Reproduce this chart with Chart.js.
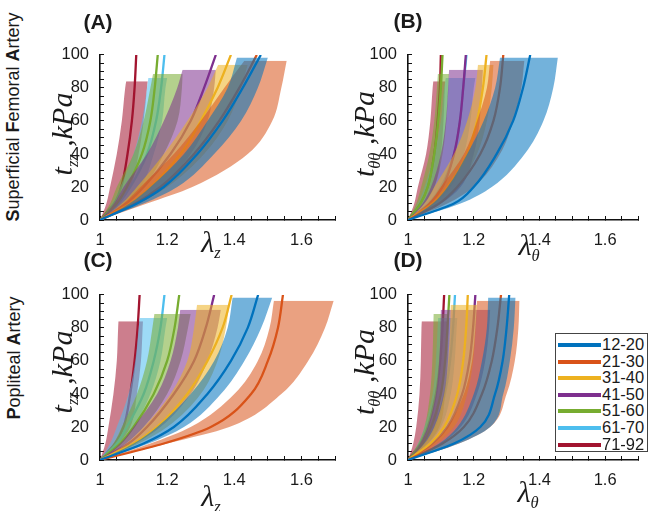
<!DOCTYPE html>
<html><head><meta charset="utf-8">
<script src="https://cdn.jsdelivr.net/npm/chart.js@4/dist/chart.umd.min.js"></script>
<style>
body{margin:0;background:#fff;width:656px;height:511px;position:relative;overflow:hidden;font-family:'Liberation Sans',Arial,sans-serif;color:#1a1a1a;}
.cv{position:absolute;}
.pos{position:absolute;width:0;height:0;}
.pos>span{position:absolute;left:0;top:0;transform:translate(-50%,-50%);white-space:nowrap;}
.pos.r>span{transform:translate(-50%,-50%) rotate(-90deg);}
.ttl{font-family:'Liberation Serif','Times New Roman',serif;font-style:italic;font-size:30px;line-height:1;}
.ttl sub{font-size:0.55em;vertical-align:-0.35em;line-height:0;}
.pl{font-weight:bold;font-size:21px;}
.row{font-size:18px;}
#legend{position:absolute;left:555px;top:333px;width:91px;height:117px;border:1px solid #444;background:#fff;}
#legend .it{position:absolute;left:2px;height:17px;width:90px;}
#legend .ln{position:absolute;left:0;top:7px;width:43px;height:4px;}
#legend .tx{position:absolute;left:44px;top:0;font-size:16.5px;line-height:17px;}
</style></head>
<body>
<canvas id="cA" class="cv" style="left:40px;top:30px" width="310" height="230"></canvas>
<canvas id="cB" class="cv" style="left:348px;top:30px" width="305" height="230"></canvas>
<canvas id="cC" class="cv" style="left:40px;top:270px" width="310" height="230"></canvas>
<canvas id="cD" class="cv" style="left:348px;top:270px" width="305" height="230"></canvas>

<div class="pos" style="left:98px;top:22px"><span class="pl">(A)</span></div>
<div class="pos" style="left:408px;top:21px"><span class="pl">(B)</span></div>
<div class="pos" style="left:98px;top:260px"><span class="pl">(C)</span></div>
<div class="pos" style="left:408px;top:260px"><span class="pl">(D)</span></div>

<div class="pos r" style="left:62px;top:134px"><span class="ttl">t<sub>zz</sub> ,kPa</span></div>
<div class="pos r" style="left:364px;top:134px"><span class="ttl">t<sub>θθ</sub> ,kPa</span></div>
<div class="pos r" style="left:62px;top:372px"><span class="ttl">t<sub>zz</sub> ,kPa</span></div>
<div class="pos r" style="left:364px;top:372px"><span class="ttl">t<sub>θθ</sub> ,kPa</span></div>

<div class="pos" style="left:211px;top:242px"><span class="ttl">λ<sub>z</sub></span></div>
<div class="pos" style="left:529px;top:245px"><span class="ttl">λ<sub>θ</sub></span></div>
<div class="pos" style="left:211px;top:496px"><span class="ttl">λ<sub>z</sub></span></div>
<div class="pos" style="left:528px;top:492px"><span class="ttl">λ<sub>θ</sub></span></div>

<div class="pos r" style="left:13px;top:117px"><span class="row"><b>S</b>uperficial <b>F</b>emoral <b>A</b>rtery</span></div>
<div class="pos r" style="left:14px;top:358px"><span class="row"><b>P</b>opliteal <b>A</b>rtery</span></div>

<div id="legend"></div>

<script>
// ---- categories / levels / ticks ----
const groups = ['12-20', '21-30', '31-40', '41-50', '51-60', '61-70', '71-92'];
const stressLevels = [0, 10, 20, 40, 60, 80, 100];   // kPa levels for mean curves
const edgeLevels = [0, 10, 20, 40, 60, 80];          // kPa levels for band edges (last point = bandTop)
const bandTop = [98.5, 96.5, 94, 91, 88.5, 86, 84];
const xTickValues = [1, 1.2, 1.4, 1.6];
const yTickValues = [0, 20, 40, 60, 80, 100];

// ---- (A) Superficial femoral, axial: stretch at each level ----
const sfaAxialMean = [
  [1, 1.11, 1.19, 1.29, 1.365, 1.425, 1.479],
  [1, 1.105, 1.18, 1.28, 1.355, 1.415, 1.467],
  [1, 1.09, 1.15, 1.24, 1.30, 1.35, 1.39],
  [1, 1.078, 1.13, 1.21, 1.27, 1.31, 1.345],
  [1, 1.05, 1.08, 1.125, 1.15, 1.163, 1.172],
  [1, 1.055, 1.09, 1.14, 1.167, 1.182, 1.192],
  [1, 1.042, 1.063, 1.082, 1.095, 1.103, 1.108]
];
const sfaAxialLow = [
  [1, 1.088, 1.15, 1.25, 1.32, 1.38, 1.408],
  [1, 1.07, 1.12, 1.22, 1.30, 1.37, 1.43],
  [1, 1.065, 1.11, 1.19, 1.26, 1.32, 1.352],
  [1, 1.042, 1.07, 1.14, 1.19, 1.23, 1.246],
  [1, 1.03, 1.05, 1.10, 1.13, 1.15, 1.158],
  [1, 1.036, 1.06, 1.10, 1.125, 1.14, 1.144],
  [1, 1.019, 1.03, 1.05, 1.065, 1.075, 1.078]
];
const sfaAxialHigh = [
  [1, 1.13, 1.23, 1.34, 1.42, 1.47, 1.50],
  [1, 1.14, 1.275, 1.44, 1.513, 1.54, 1.556],
  [1, 1.115, 1.20, 1.31, 1.38, 1.42, 1.44],
  [1, 1.105, 1.18, 1.27, 1.32, 1.34, 1.345],
  [1, 1.075, 1.13, 1.19, 1.231, 1.244, 1.246],
  [1, 1.07, 1.12, 1.16, 1.185, 1.195, 1.20],
  [1, 1.055, 1.09, 1.115, 1.13, 1.14, 1.142]
];

// ---- (B) Superficial femoral, circumferential ----
const sfaCircMean = [
  [1, 1.14, 1.20, 1.27, 1.32, 1.35, 1.372],
  [1, 1.095, 1.15, 1.22, 1.26, 1.28, 1.29],
  [1, 1.075, 1.12, 1.18, 1.21, 1.228, 1.239],
  [1, 1.066, 1.105, 1.14, 1.158, 1.168, 1.176],
  [1, 1.038, 1.06, 1.08, 1.092, 1.10, 1.105],
  [1, 1.063, 1.10, 1.14, 1.158, 1.168, 1.178],
  [1, 1.038, 1.06, 1.08, 1.09, 1.097, 1.10]
];
const sfaCircLow = [
  [1, 1.075, 1.12, 1.18, 1.23, 1.265, 1.28],
  [1, 1.062, 1.10, 1.17, 1.21, 1.24, 1.25],
  [1, 1.05, 1.08, 1.14, 1.18, 1.205, 1.213],
  [1, 1.044, 1.07, 1.10, 1.115, 1.122, 1.125],
  [1, 1.025, 1.04, 1.065, 1.08, 1.088, 1.091],
  [1, 1.03, 1.05, 1.08, 1.10, 1.11, 1.115],
  [1, 1.019, 1.03, 1.055, 1.068, 1.075, 1.077]
];
const sfaCircHigh = [
  [1, 1.16, 1.255, 1.355, 1.412, 1.442, 1.456],
  [1, 1.12, 1.20, 1.28, 1.32, 1.345, 1.354],
  [1, 1.09, 1.15, 1.21, 1.24, 1.255, 1.26],
  [1, 1.10, 1.16, 1.20, 1.218, 1.225, 1.228],
  [1, 1.05, 1.08, 1.105, 1.117, 1.123, 1.125],
  [1, 1.08, 1.13, 1.17, 1.19, 1.20, 1.205],
  [1, 1.05, 1.08, 1.10, 1.108, 1.112, 1.113]
];

// ---- (C) Popliteal, axial ----
const popAxialMean = [
  [1, 1.13, 1.22, 1.32, 1.39, 1.44, 1.471],
  [1, 1.19, 1.33, 1.45, 1.50, 1.53, 1.545],
  [1, 1.10, 1.17, 1.26, 1.32, 1.365, 1.392],
  [1, 1.085, 1.14, 1.22, 1.28, 1.315, 1.34],
  [1, 1.06, 1.10, 1.16, 1.20, 1.222, 1.236],
  [1, 1.05, 1.08, 1.13, 1.16, 1.18, 1.192],
  [1, 1.045, 1.07, 1.09, 1.103, 1.112, 1.118]
];
const popAxialLow = [
  [1, 1.10, 1.17, 1.27, 1.34, 1.38, 1.395],
  [1, 1.15, 1.27, 1.40, 1.47, 1.505, 1.518],
  [1, 1.078, 1.13, 1.21, 1.26, 1.28, 1.289],
  [1, 1.06, 1.10, 1.17, 1.21, 1.232, 1.239],
  [1, 1.04, 1.065, 1.11, 1.14, 1.156, 1.162],
  [1, 1.03, 1.05, 1.085, 1.105, 1.115, 1.118],
  [1, 1.016, 1.025, 1.04, 1.05, 1.054, 1.055]
];
const popAxialHigh = [
  [1, 1.145, 1.25, 1.36, 1.43, 1.48, 1.513],
  [1, 1.20, 1.385, 1.54, 1.62, 1.67, 1.696],
  [1, 1.115, 1.20, 1.30, 1.35, 1.375, 1.385],
  [1, 1.105, 1.18, 1.27, 1.32, 1.35, 1.36],
  [1, 1.077, 1.13, 1.20, 1.24, 1.262, 1.27],
  [1, 1.06, 1.10, 1.15, 1.18, 1.195, 1.20],
  [1, 1.056, 1.09, 1.11, 1.122, 1.127, 1.128]
];

// ---- (D) Popliteal, circumferential ----
const popCircMean = [
  [1, 1.14, 1.22, 1.265, 1.288, 1.30, 1.308],
  [1, 1.105, 1.17, 1.225, 1.255, 1.272, 1.283],
  [1, 1.068, 1.11, 1.15, 1.168, 1.177, 1.182],
  [1, 1.074, 1.12, 1.165, 1.187, 1.198, 1.205],
  [1, 1.044, 1.07, 1.10, 1.113, 1.12, 1.126],
  [1, 1.05, 1.08, 1.112, 1.128, 1.137, 1.143],
  [1, 1.038, 1.06, 1.085, 1.098, 1.105, 1.11]
];
const popCircLow = [
  [1, 1.095, 1.15, 1.20, 1.225, 1.24, 1.244],
  [1, 1.075, 1.12, 1.17, 1.195, 1.205, 1.21],
  [1, 1.05, 1.08, 1.11, 1.122, 1.128, 1.13],
  [1, 1.037, 1.06, 1.085, 1.095, 1.099, 1.10],
  [1, 1.031, 1.05, 1.067, 1.074, 1.077, 1.078],
  [1, 1.031, 1.05, 1.075, 1.085, 1.09, 1.092],
  [1, 1.016, 1.025, 1.035, 1.039, 1.041, 1.042]
];
const popCircHigh = [
  [1, 1.155, 1.25, 1.29, 1.31, 1.322, 1.327],
  [1, 1.155, 1.25, 1.30, 1.325, 1.336, 1.339],
  [1, 1.087, 1.14, 1.18, 1.198, 1.206, 1.21],
  [1, 1.10, 1.16, 1.21, 1.235, 1.247, 1.25],
  [1, 1.06, 1.095, 1.113, 1.121, 1.124, 1.125],
  [1, 1.063, 1.10, 1.13, 1.142, 1.148, 1.15],
  [1, 1.05, 1.08, 1.10, 1.112, 1.118, 1.12]
];

// ---- styles ----
const palette = ['#0072BD', '#D95319', '#EDB120', '#7E2F8E', '#77AC30', '#4DBEEE', '#A2142F'];
const bandAlpha = 0.55;

function rgba(hex, a) {
  const n = parseInt(hex.slice(1), 16);
  return 'rgba(' + ((n >> 16) & 255) + ',' + ((n >> 8) & 255) + ',' + (n & 255) + ',' + a + ')';
}

function buildDatasets(mean, low, high) {
  const ds = [];
  for (let i = 0; i < groups.length; i++) {
    const lvl = k => (k < edgeLevels.length ? edgeLevels[k] : bandTop[i]);
    const highIdx = ds.length;
    ds.push({
      label: groups[i] + ' upper', data: high[i].map((v, k) => ({x: v, y: lvl(k)})),
      borderWidth: 0, borderColor: 'transparent', pointRadius: 0, fill: false,
      cubicInterpolationMode: 'monotone', order: 2 * i + 1
    });
    ds.push({
      label: groups[i] + ' band', data: low[i].map((v, k) => ({x: v, y: lvl(k)})),
      borderWidth: 0, borderColor: 'transparent', pointRadius: 0,
      backgroundColor: rgba(palette[i], bandAlpha), fill: highIdx,
      cubicInterpolationMode: 'monotone', order: 2 * i + 1
    });
    ds.push({
      label: groups[i], data: mean[i].map((v, k) => ({x: v, y: stressLevels[k]})),
      borderColor: palette[i], borderWidth: 2.3, pointRadius: 0, fill: false,
      cubicInterpolationMode: 'monotone', order: 2 * i
    });
  }
  return ds;
}

const tickFont = {family: "'Liberation Sans', Arial, sans-serif", size: 16.5};

function makePanel(id, mean, low, high, yWidth, xHeight, padTop, padRight) {
  new Chart(document.getElementById(id), {
    type: 'line',
    data: {datasets: buildDatasets(mean, low, high)},
    options: {
      indexAxis: 'y',
      responsive: false, animation: false, devicePixelRatio: 1,
      layout: {padding: {top: padTop, right: padRight, left: 0, bottom: 0}},
      plugins: {legend: {display: false}, tooltip: {enabled: false}},
      scales: {
        x: {
          type: 'linear', position: 'bottom', min: 1, max: 1.7,
          afterFit: s => { s.height = xHeight; },
          border: {display: true, color: '#111', width: 1.6},
          grid: {display: true, drawOnChartArea: false, drawTicks: true, tickLength: -4, color: '#111', lineWidth: 1},
          ticks: {
            stepSize: 0.05, autoSkip: false, maxRotation: 0, padding: 15, color: '#1a1a1a', font: tickFont,
            callback: v => { const r = Math.round(v * 100) / 100; return xTickValues.some(t => Math.abs(t - r) < 1e-6) ? String(r) : ''; }
          }
        },
        y: {
          type: 'linear', position: 'left', min: 0, max: 100,
          afterFit: s => { s.width = yWidth; },
          border: {display: true, color: '#111', width: 1.6},
          grid: {display: true, drawOnChartArea: false, drawTicks: true, tickLength: -4, color: '#111', lineWidth: 1},
          ticks: {
            stepSize: 5, autoSkip: false, padding: 15, color: '#1a1a1a', font: tickFont,
            callback: v => yTickValues.includes(Math.round(v)) && Math.abs(v - Math.round(v)) < 1e-6 ? String(Math.round(v)) : ''
          }
        }
      }
    }
  });
}

makePanel('cA', sfaAxialMean, sfaAxialLow, sfaAxialHigh, 60, 40, 12, 13);
makePanel('cB', sfaCircMean, sfaCircLow, sfaCircHigh, 60, 40, 12, 6);
makePanel('cC', popAxialMean, popAxialLow, popAxialHigh, 60, 40, 12, 13);
makePanel('cD', popCircMean, popCircLow, popCircHigh, 60, 40, 12, 6);

// legend (HTML)
const lg = document.getElementById('legend');
groups.forEach((g, i) => {
  const it = document.createElement('div');
  it.className = 'it';
  it.style.top = (2 + i * 16.6) + 'px';
  it.innerHTML = '<div class="ln" style="background:' + palette[i] + '"></div><div class="tx">' + g + '</div>';
  lg.appendChild(it);
});
</script>
</body></html>
